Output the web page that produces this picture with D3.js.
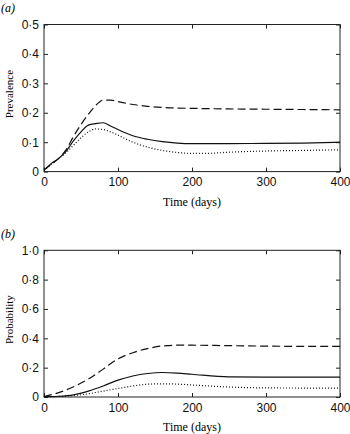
<!DOCTYPE html>
<html lang="en">
<head>
  <meta charset="UTF-8" />
  <title>Prevalence and probability</title>
  <script src="https://d3js.org/d3.v7.min.js"></script>
  <style>
  body { margin: 0; background: #fff; }
  svg { font-family: "Liberation Serif", "Times New Roman", serif; }
  .axis path, .axis line { stroke: #222; stroke-width: 1; }
  .axis text { font-size: 12px; fill: #111; }
  .curve { fill: none; stroke: #111; stroke-width: 1.2; }
  </style>
</head>
<body>
<script>

// panel (a) - prevalence over time
var timeA = [0, 10, 20, 30, 40, 50, 60, 70, 80, 90, 100, 120, 140, 160, 180, 200, 220, 250, 300, 350, 400];
var dashedA = [0.005, 0.025, 0.045, 0.075, 0.12, 0.16, 0.195, 0.225, 0.243, 0.243, 0.238, 0.228, 0.222, 0.218, 0.216, 0.215, 0.214, 0.213, 0.212, 0.211, 0.21];
var solidA  = [0.005, 0.028, 0.045, 0.07, 0.105, 0.135, 0.158, 0.163, 0.166, 0.155, 0.143, 0.122, 0.11, 0.102, 0.097, 0.095, 0.095, 0.095, 0.096, 0.097, 0.1];
var dottedA = [0.005, 0.025, 0.045, 0.065, 0.09, 0.115, 0.135, 0.145, 0.143, 0.135, 0.124, 0.1, 0.083, 0.072, 0.065, 0.062, 0.062, 0.066, 0.07, 0.072, 0.074];

// panel (b) - probability over time
var timeB = [0, 20, 40, 60, 80, 100, 120, 140, 160, 180, 200, 250, 300, 350, 400];
var dashedB = [0.003, 0.03, 0.07, 0.122, 0.19, 0.26, 0.302, 0.33, 0.348, 0.353, 0.353, 0.35, 0.347, 0.345, 0.345];
var solidB  = [0.002, 0.005, 0.015, 0.04, 0.075, 0.115, 0.143, 0.16, 0.167, 0.163, 0.155, 0.137, 0.135, 0.135, 0.135];
var dottedB = [0.002, 0.004, 0.01, 0.022, 0.04, 0.058, 0.075, 0.087, 0.09, 0.088, 0.082, 0.068, 0.062, 0.061, 0.06];

var xTicks = [0, 100, 200, 300, 400];
var yTicksA = [0, 0.1, 0.2, 0.3, 0.4, 0.5];
var yTicksB = [0, 0.2, 0.4, 0.6, 0.8, 1.0];

var svg = d3.select("body").append("svg")
  .attr("width", 350)
  .attr("height", 434);

function fmt(d) {
  if (d === 0) return "0";
  return d3.format(".1f")(d).replace(".", "\u00b7");
}

function panel(opts) {
  var x = d3.scaleLinear().domain([0, 400]).range([44, 340]);
  var y = d3.scaleLinear().domain([0, opts.ymax]).range([opts.bottom, opts.top]);

  var g = svg.append("g");

  // frame
  g.append("rect")
    .attr("x", x(0)).attr("y", y(opts.ymax))
    .attr("width", x(400) - x(0)).attr("height", y(0) - y(opts.ymax))
    .attr("fill", "none").attr("stroke", "#222").attr("stroke-width", 1);

  g.append("g").attr("class", "axis")
    .attr("transform", "translate(0," + y(0) + ")")
    .call(d3.axisBottom(x).tickValues(xTicks).tickSizeInner(-4).tickSizeOuter(0).tickPadding(6).tickFormat(d3.format("d")))
    .call(function(s) { s.select(".domain").remove(); });

  g.append("g").attr("class", "axis")
    .attr("transform", "translate(0," + y(opts.ymax) + ")")
    .call(d3.axisTop(x).tickValues(xTicks).tickSizeInner(-4).tickSizeOuter(0).tickFormat(""))
    .call(function(s) { s.select(".domain").remove(); });

  g.append("g").attr("class", "axis")
    .attr("transform", "translate(" + x(0) + ",0)")
    .call(d3.axisLeft(y).tickValues(opts.yTicks).tickSizeInner(-4).tickSizeOuter(0).tickPadding(5).tickFormat(fmt))
    .call(function(s) { s.select(".domain").remove(); });

  g.append("g").attr("class", "axis")
    .attr("transform", "translate(" + x(400) + ",0)")
    .call(d3.axisRight(y).tickValues(opts.yTicks).tickSizeInner(-4).tickSizeOuter(0).tickFormat(""))
    .call(function(s) { s.select(".domain").remove(); });

  var line = d3.line()
    .x(function(d) { return x(d[0]); })
    .y(function(d) { return y(d[1]); })
    .curve(d3.curveMonotoneX);

  var series = [
    { vals: opts.dashed, dash: "8,4" },
    { vals: opts.solid, dash: null },
    { vals: opts.dotted, dash: "1,2" }
  ];
  series.forEach(function(s) {
    g.append("path")
      .datum(opts.time.map(function(t, i) { return [t, s.vals[i]]; }))
      .attr("class", "curve")
      .attr("stroke-dasharray", s.dash)
      .attr("d", line);
  });

  g.append("text")
    .attr("x", (x(0) + x(400)) / 2)
    .attr("y", y(0) + 34)
    .attr("text-anchor", "middle")
    .attr("font-size", 12)
    .text("Time (days)");

  g.append("text")
    .attr("transform", "translate(9," + ((y(0) + y(opts.ymax)) / 2 - 4) + ") rotate(-90)")
    .attr("text-anchor", "middle")
    .attr("dominant-baseline", "central")
    .attr("font-size", 11)
    .text(opts.ylabel);

  g.append("text")
    .attr("x", 1)
    .attr("y", opts.top - 12.5)
    .attr("font-size", 12)
    .attr("font-style", "italic")
    .text(opts.tag);
}

panel({ time: timeA, dashed: dashedA, solid: solidA, dotted: dottedA,
        ymax: 0.5, yTicks: yTicksA, top: 24.5, bottom: 171.6, ylabel: "Prevalence", tag: "(a)" });
panel({ time: timeB, dashed: dashedB, solid: solidB, dotted: dottedB,
        ymax: 1.0, yTicks: yTicksB, top: 250.3, bottom: 397, ylabel: "Probability", tag: "(b)" });

</script>
</body>
</html>
